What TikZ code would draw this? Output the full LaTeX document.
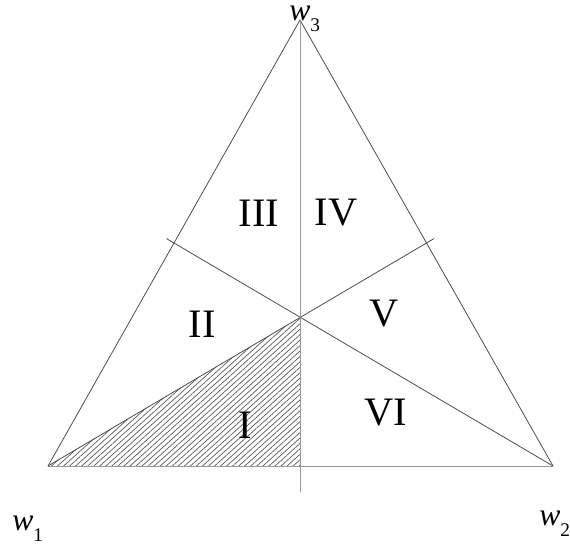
\documentclass[tikz,border=0pt]{standalone}
\usepackage{fontspec}
\setmainfont{Liberation Serif}
\usetikzlibrary{patterns.meta,calc}

\newcommand{\wlab}[1]{\textit{w}\raisebox{-6.5pt}{\fontsize{11}{13}\selectfont #1}}

\begin{document}
\begin{tikzpicture}[
  x=0.02cm, y=-0.02cm,
  edge/.style={draw=black!70, line width=0.45pt},
  base/.style={draw=black!40, line width=0.5pt},
  region/.style={font=\fontsize{23}{26}\selectfont, inner sep=0pt},
  vlabel/.style={font=\fontsize{18}{21}\selectfont, inner sep=0pt, anchor=base west}
]
\useasboundingbox (0,0) rectangle (570,545);

% corners of the simplex
\coordinate (w1) at (48,466);
\coordinate (w2) at (553,466);
\coordinate (w3) at (300,20);
\coordinate (c) at (barycentric cs:w1=1,w2=1,w3=1);
\coordinate (foot) at (300,466);
\coordinate (low) at (300,492);

% hatched part
\fill[pattern={Lines[angle=42,distance=2.3pt,line width=0.4pt]}, pattern color=black!65]
  (w1) -- (c) -- (foot) -- cycle;

% triangle
\draw[base] (w1) -- (w2);
\draw[edge] (w1) -- (w3) -- (w2);

% medians
\draw[edge] (w1) -- ($(w1)!1.02!($(w2)!0.5!(w3)$)$);
\draw[edge] (w2) -- ($(w2)!1.02!($(w1)!0.5!(w3)$)$);
\draw[base] (w3) -- (low);
\draw[base] (foot) -- (w2);

% labels
\node[vlabel] (l3) at (289,20) {\wlab{3}};
\node[vlabel] (l1) at (12,530) {\wlab{1}};
\node[vlabel] (l2) at (539,525) {\wlab{2}};

\node[region] (r1) at (245,425) {I};
\node[region] (r2) at (202,324) {II};
\node[region] (r3) at (259,213) {III};
\node[region] (r4) at (336,213) {IV};
\node[region] (r5) at (384,314) {V};
\node[region] (r6) at (386,413) {VI};
\end{tikzpicture}
\end{document}
